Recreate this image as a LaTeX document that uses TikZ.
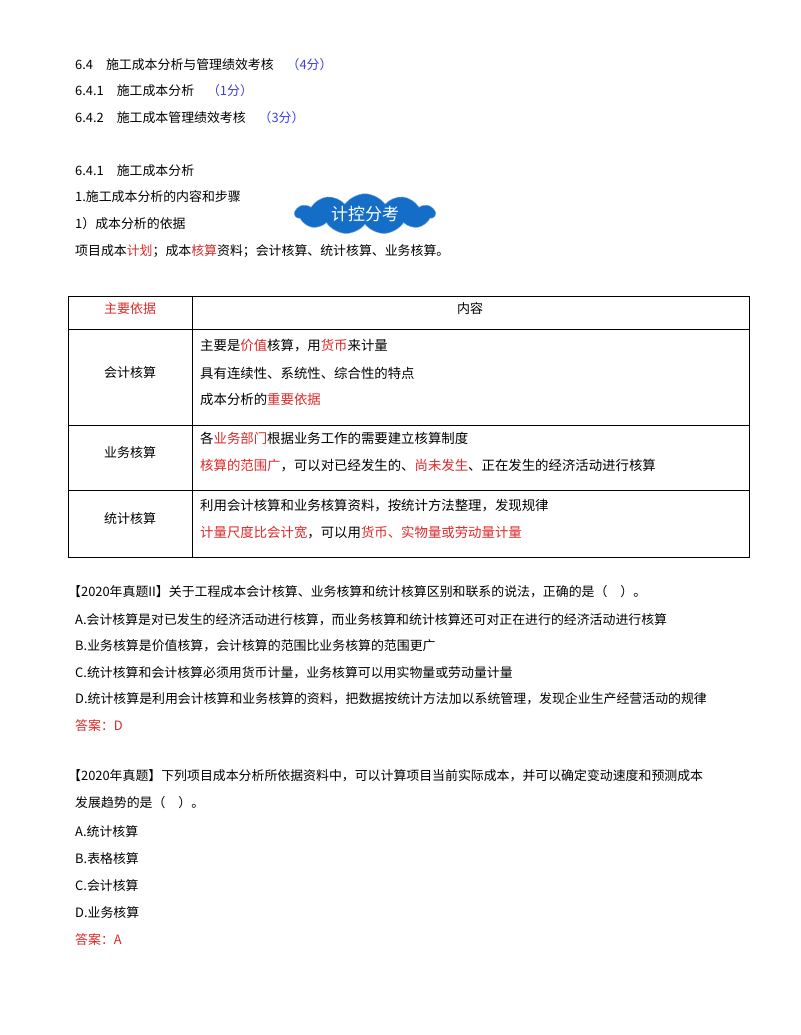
\documentclass[tikz,border=0pt]{standalone}
\usepackage{fontspec}
\setmainfont{Noto Sans CJK SC}
\usetikzlibrary{shapes.symbols}
\definecolor{myred}{RGB}{220,40,40}
\definecolor{myblue}{RGB}{60,60,230}
\definecolor{cloudblue}{RGB}{20,110,200}
\tikzset{
  txt/.style={anchor=west, inner sep=0pt, font=\fontsize{12.9}{16}\selectfont},
  tab/.style={anchor=west, inner sep=0pt, font=\fontsize{13.4}{15}\selectfont},
  tabc/.style={inner sep=0pt, font=\fontsize{13}{15}\selectfont},
  grid/.style={black, line width=0.8pt}
}
\newcommand{\hl}[1]{\textcolor{myred}{#1}}
\newcommand{\score}[1]{\textcolor{myblue}{#1}}
\begin{document}
\begin{tikzpicture}[x=1pt, y=-1pt]
\useasboundingbox (0,0) rectangle (800,1035);

% Headings
\node[txt] (h1) at (75,65) {6.4\quad 施工成本分析与管理绩效考核\quad \score{（4分）}};
\node[txt] (h2) at (75,91) {6.4.1\quad 施工成本分析\quad \score{（1分）}};
\node[txt] (h3) at (75,118) {6.4.2\quad 施工成本管理绩效考核\quad \score{（3分）}};
\node[txt] (s1) at (75,171) {6.4.1\quad 施工成本分析};
\node[txt] (s2) at (75,197) {1.施工成本分析的内容和步骤};
\node[txt] (s3) at (75,224) {1）成本分析的依据};
\node[txt] (s4) at (75,251) {项目成本\hl{计划}；成本\hl{核算}资料；会计核算、统计核算、业务核算。};

% Cloud badge
\node[cloud, cloud puffs=11, cloud puff arc=110, aspect=3.5, fill=cloudblue,
  draw=cloudblue!60!white, minimum width=140pt, minimum height=30pt, inner sep=0pt,
  text=white, font=\fontsize{17}{18}\selectfont] (badge) at (365,214) {计控分考};

% Table
\draw[grid] (68,296) rectangle (749,557);
\draw[grid] (192,296) -- (192,557);
\foreach \y in {329,425,490} {
  \draw[grid] (68,\y) -- (749,\y);
}
\node[tabc, text=myred] (c0) at (130,309) {主要依据};
\node[tabc] (d0) at (470,309) {内容};
\node[tabc] (c1) at (130,373) {会计核算};
\node[tab] (d11) at (200,346) {主要是\hl{价值}核算，用\hl{货币}来计量};
\node[tab] (d12) at (200,373) {具有连续性、系统性、综合性的特点};
\node[tab] (d13) at (200,399) {成本分析的\hl{重要依据}};
\node[tabc] (c2) at (130,453) {业务核算};
\node[tab] (d21) at (200,438) {各\hl{业务部门}根据业务工作的需要建立核算制度};
\node[tab] (d22) at (200,466) {\hl{核算的范围广}，可以对已经发生的、\hl{尚未发生}、正在发生的经济活动进行核算};
\node[tabc] (c3) at (130,519) {统计核算};
\node[tab] (d31) at (200,506) {利用会计核算和业务核算资料，按统计方法整理，发现规律};
\node[tab] (d32) at (200,533) {\hl{计量尺度比会计宽}，可以用\hl{货币、实物量或劳动量计量}};

% Question 1
\node[txt] (q1) at (68,592) {【2020年真题II】关于工程成本会计核算、业务核算和统计核算区别和联系的说法，正确的是（\quad）。};
\node[txt] (q1a) at (75,620) {A.会计核算是对已发生的经济活动进行核算，而业务核算和统计核算还可对正在进行的经济活动进行核算};
\node[txt] (q1b) at (75,646) {B.业务核算是价值核算，会计核算的范围比业务核算的范围更广};
\node[txt] (q1c) at (75,673) {C.统计核算和会计核算必须用货币计量，业务核算可以用实物量或劳动量计量};
\node[txt] (q1d) at (75,699) {D.统计核算是利用会计核算和业务核算的资料，把数据按统计方法加以系统管理，发现企业生产经营活动的规律};
\node[txt, text=myred] (q1k) at (75,726) {答案：D};

% Question 2
\node[txt] (q2) at (68,776) {【2020年真题】下列项目成本分析所依据资料中，可以计算项目当前实际成本，并可以确定变动速度和预测成本};
\node[txt] (q2x) at (75,803) {发展趋势的是（\quad）。};
\node[txt] (q2a) at (75,832) {A.统计核算};
\node[txt] (q2b) at (75,859) {B.表格核算};
\node[txt] (q2c) at (75,886) {C.会计核算};
\node[txt] (q2d) at (75,913) {D.业务核算};
\node[txt, text=myred] (q2k) at (75,940) {答案：A};
\end{tikzpicture}
\end{document}
